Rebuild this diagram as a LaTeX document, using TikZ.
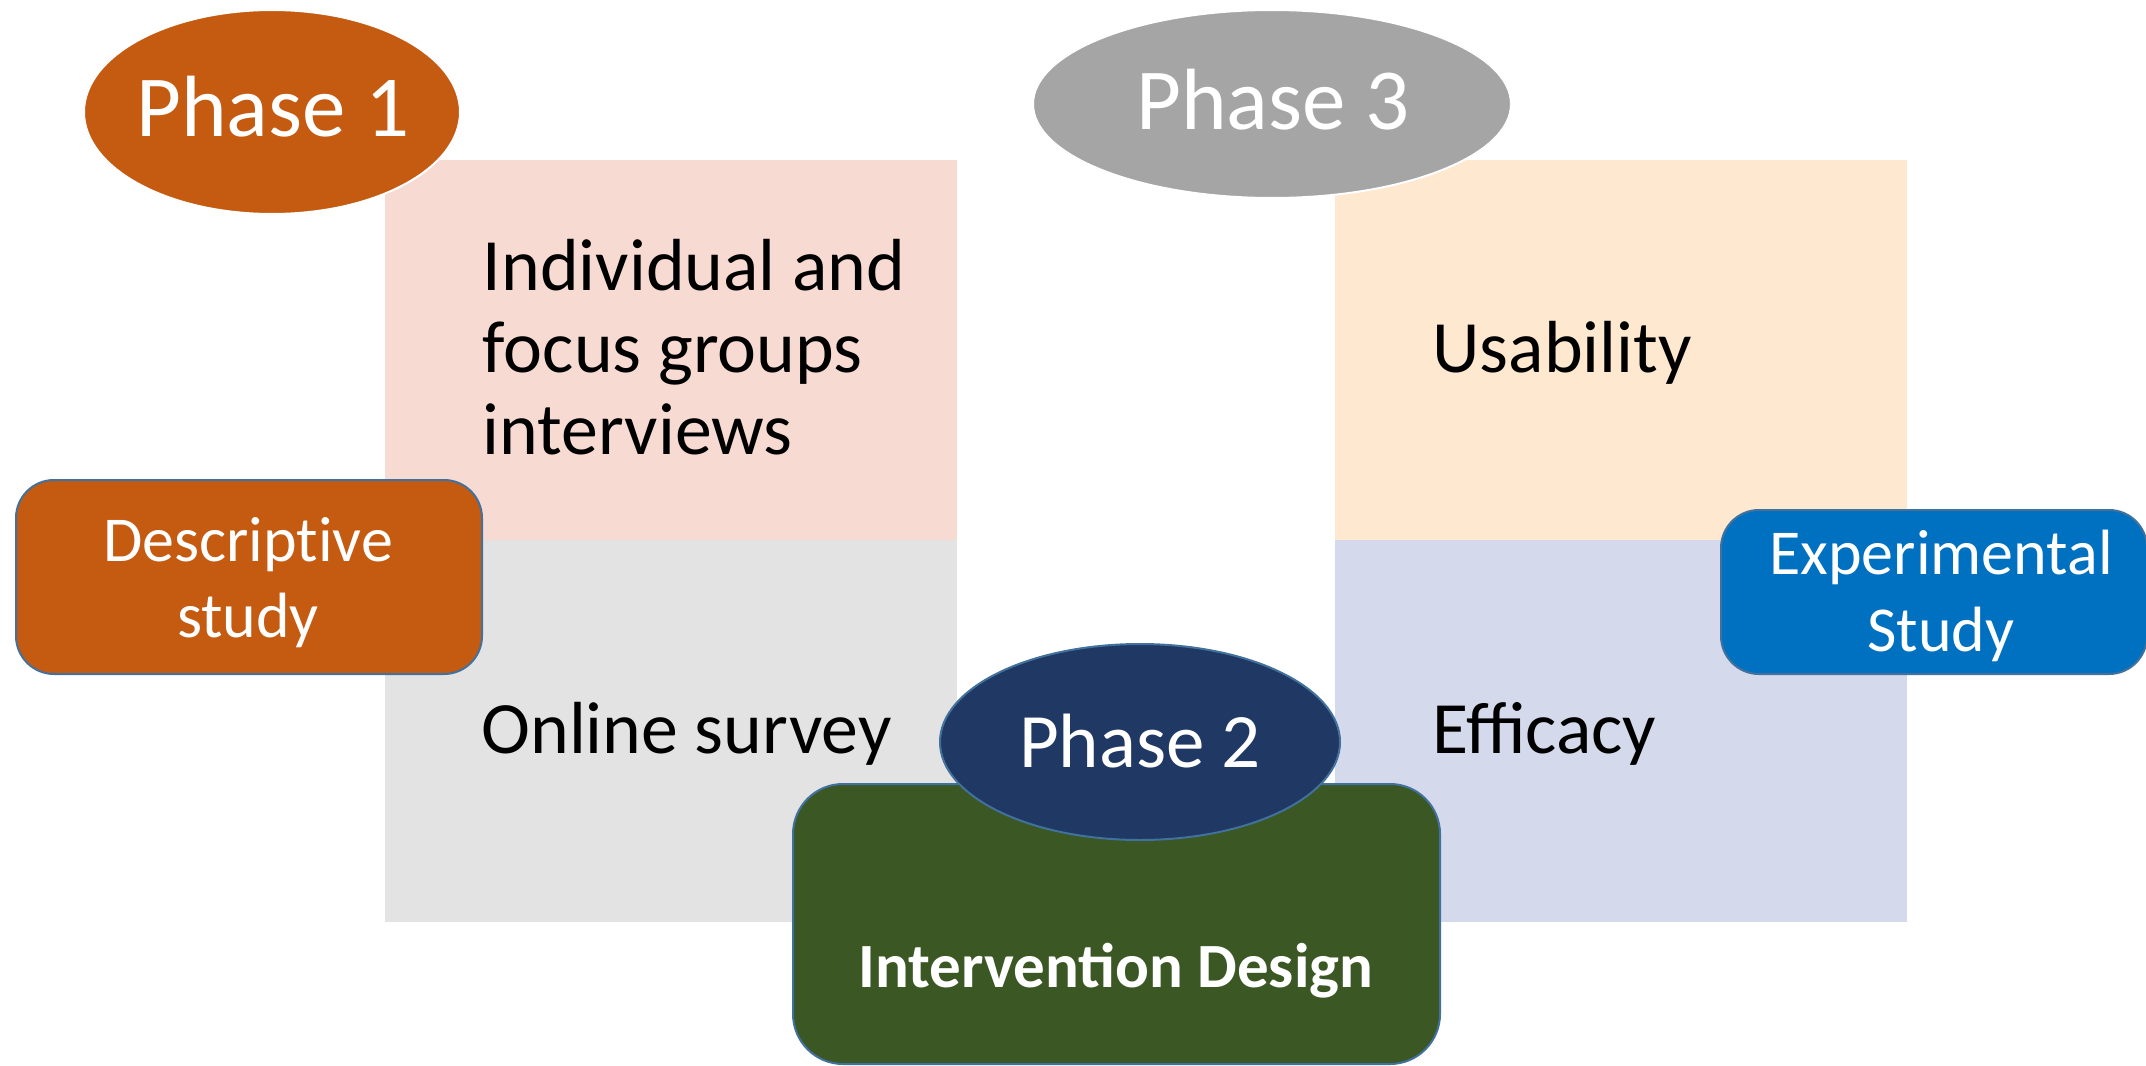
\documentclass[tikz,border=0pt]{standalone}
\usepackage{fontspec}
\setmainfont{Carlito}
\usetikzlibrary{shapes.geometric}

\definecolor{orangeC}{HTML}{C55A11}
\definecolor{grayC}{HTML}{A5A5A5}
\definecolor{navyC}{HTML}{203864}
\definecolor{greenC}{HTML}{3A5724}
\definecolor{blueC}{HTML}{0070C0}
\definecolor{pinkC}{HTML}{F7DBD3}
\definecolor{peachC}{HTML}{FEE8CF}
\definecolor{greyC}{HTML}{E3E3E3}
\definecolor{lavC}{HTML}{D4DAEB}
\definecolor{edgeC}{HTML}{41719C}

\tikzset{
  panel/.style={draw=none, inner sep=0, outer sep=0, anchor=north west},
  phase/.style={ellipse, inner sep=0, outer sep=0},
  phaselabel/.style={text=white, anchor=base, inner sep=0,
    font=\fontsize{43.5pt}{48pt}\selectfont},
  itemlabel/.style={text=black, anchor=base west, inner sep=0, align=left,
    font=\fontsize{36.9pt}{41pt}\selectfont},
  studybox/.style={rounded corners=19pt, draw=edgeC, line width=1pt, inner sep=0},
  studylabel/.style={text=white, anchor=base, inner sep=0, align=center,
    font=\fontsize{32pt}{38.2pt}\selectfont}
}

\begin{document}
\begin{tikzpicture}[x=0.5pt, y=-0.5pt]
\useasboundingbox (0,0) rectangle (2146,1065);

% four coloured panels
\node[panel, fill=pinkC,  minimum width=286pt,  minimum height=190.25pt] (p1top) at (385,159.5) {};
\node[panel, fill=greyC,  minimum width=286pt,  minimum height=191pt]    (p1bot) at (385,540) {};
\node[panel, fill=peachC, minimum width=286pt,  minimum height=190.25pt] (p3top) at (1334.5,159.5) {};
\node[panel, fill=lavC,   minimum width=286pt,  minimum height=191pt]    (p3bot) at (1334.5,540) {};

% panel texts (multi-line nodes sit on their last baseline)
\node[itemlabel] (interviews) at (482.5,454) {Individual and\\focus groups\\interviews};
\node[itemlabel] (survey)     at (481,753)   {Online survey};
\node[itemlabel] (usability)  at (1432,372)  {Usability};
\node[itemlabel] (efficacy)   at (1432,753)  {Efficacy};

% phase 1 and phase 3 ellipses
\node[phase, fill=orangeC, draw=white, line width=1pt,
      minimum width=188pt, minimum height=102pt] (ph1) at (272,112) {};
\node[phaselabel] (ph1t) at (273,137) {Phase 1};
\node[phase, fill=grayC, draw=white, line width=1pt,
      minimum width=239pt, minimum height=94pt] (ph3) at (1272,104) {};
\node[phaselabel] (ph3t) at (1273,129) {Phase 3};

% study type boxes
\node[studybox, fill=orangeC, anchor=north west,
      minimum width=233pt, minimum height=97pt] (desc) at (15,479) {};
\node[studylabel] (desct) at (248,637.5) {Descript\kern0pt ive\\study};
\node[studybox, fill=blueC, anchor=north west,
      minimum width=213pt, minimum height=82pt] (expt) at (1720,509) {};
\node[studylabel] (exptt) at (1941,651) {Experimental\\Study};

% phase 2: intervention design
\node[studybox, rounded corners=25pt, fill=greenC, anchor=north west,
      minimum width=323.5pt, minimum height=140pt] (design) at (792,783) {};
\node[text=white, anchor=base, inner sep=0,
      font=\fontsize{31.5pt}{36pt}\selectfont\bfseries] (designt) at (1116,987) {Intervention Design};
\node[phase, fill=navyC, draw=edgeC, line width=1pt,
      minimum width=200pt, minimum height=98pt] (ph2) at (1140,742) {};
\node[phaselabel, font=\fontsize{38.5pt}{44pt}\selectfont] (ph2t) at (1140,767.5) {Phase 2};
\end{tikzpicture}
\end{document}
